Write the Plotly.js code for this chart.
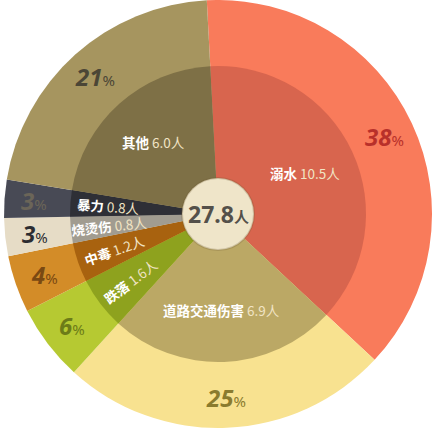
<!DOCTYPE html>
<html>
<head>
<meta charset="utf-8">
<script src="https://cdn.plot.ly/plotly-3.0.1.min.js"></script>
<style>
  html, body { margin: 0; padding: 0; background: #fff; }
  #chart { width: 447px; height: 436px; }
</style>
</head>
<body>
<div id="chart"></div>
<script>
// 儿童伤害死亡原因（人）
const causes = ['溺水', '道路交通伤害', '跌落', '中毒', '烧烫伤', '暴力', '其他']
const deaths = [10.5, 6.9, 1.6, 1.2, 0.8, 0.8, 6.0]
const percentLabels = ['38', '25', '6', '4', '3', '3', '21']
const totalLabel = '27.8'

const OUTER_COLORS = ['#f97b5b', '#f8e290', '#b6c932', '#d38c28', '#e6dcc6', '#484a55', '#a6955f']
const INNER_COLORS = ['#d8654e', '#bba865', '#8ea21e', '#a8620f', '#a19c90', '#2e2f36', '#7e7046']
const PCT_COLORS = ['#b8302a', '#8a7b2e', '#6c7b18', '#7a4912', '#2b2c31', '#6b6558', '#4b4636']

const W = 447, H = 436
const CX = 218, CY = 214
const R_OUT = 214, R_IN = 148, R_C = 36
const ROT = -3

function domainFor(r) {
  return {
    x: [(CX - r) / W, (CX + r) / W],
    y: [1 - (CY + r) / H, 1 - (CY - r) / H]
  }
}

// mid angle of each slice, clockwise from 12 o'clock
let total = deaths.reduce((a, b) => a + b, 0)
let midAngles = []
let acc = 0
deaths.forEach(v => {
  midAngles.push(ROT + (acc + v / 2) / total * 360)
  acc += v
})

function toPaper(angle, r) {
  let a = angle * Math.PI / 180
  return { x: (CX + r * Math.sin(a)) / W, y: 1 - (CY - r * Math.cos(a)) / H }
}

let annotations = []
midAngles.forEach((ang, i) => {
  let p = toPaper(ang, 184)
  annotations.push({
    xref: 'paper', yref: 'paper', x: p.x, y: p.y, showarrow: false,
    xanchor: 'center', yanchor: 'middle',
    text: '<b><i>' + percentLabels[i] + '</i></b><span style="font-size:15px">%</span>',
    font: { family: 'Noto Sans, Noto Sans CJK SC', size: 24, color: PCT_COLORS[i] }
  })
  let small = deaths[i] / total < 0.1
  let q = toPaper(ang, small ? 110 : 96)
  annotations.push({
    xref: 'paper', yref: 'paper', x: q.x, y: q.y, showarrow: false,
    xanchor: 'center', yanchor: 'middle',
    textangle: small ? ang - 270 : 0,
    text: '<span style="color:#ffffff"><b>' + causes[i] + '</b></span> ' + deaths[i].toFixed(1) + '人',
    font: { family: 'Noto Sans CJK SC', size: 13.5, color: '#f1e4c4' }
  })
})
annotations.push({
  xref: 'paper', yref: 'paper', x: CX / W, y: 1 - CY / H, showarrow: false,
  xanchor: 'center', yanchor: 'middle',
  text: '<b>' + totalLabel + '</b><span style="font-size:15px"><b>人</b></span>',
  font: { family: 'Noto Sans, Noto Sans CJK SC', size: 23, color: '#54504a' }
})

let base = {
  type: 'pie', labels: causes, values: deaths, sort: false,
  direction: 'clockwise', rotation: ROT, textinfo: 'none',
  hoverinfo: 'none', showlegend: false
}

let data = [
  Object.assign({}, base, {
    domain: domainFor(R_OUT),
    marker: { colors: OUTER_COLORS, line: { width: 0 } }
  }),
  Object.assign({}, base, {
    domain: domainFor(R_IN),
    marker: { colors: INNER_COLORS, line: { width: 0 } }
  }),
  {
    type: 'pie', labels: ['合计'], values: [1], sort: false,
    textinfo: 'none', hoverinfo: 'none', showlegend: false,
    domain: domainFor(R_C),
    marker: { colors: ['#efe5c9'], line: { color: 'rgba(110,90,50,0.25)', width: 2 } }
  }
]

let layout = {
  width: W,
  height: H,
  margin: { l: 0, r: 0, t: 0, b: 0 },
  paper_bgcolor: '#ffffff',
  showlegend: false,
  annotations: annotations
}

Plotly.newPlot('chart', data, layout, { displayModeBar: false, staticPlot: true })
</script>
</body>
</html>
